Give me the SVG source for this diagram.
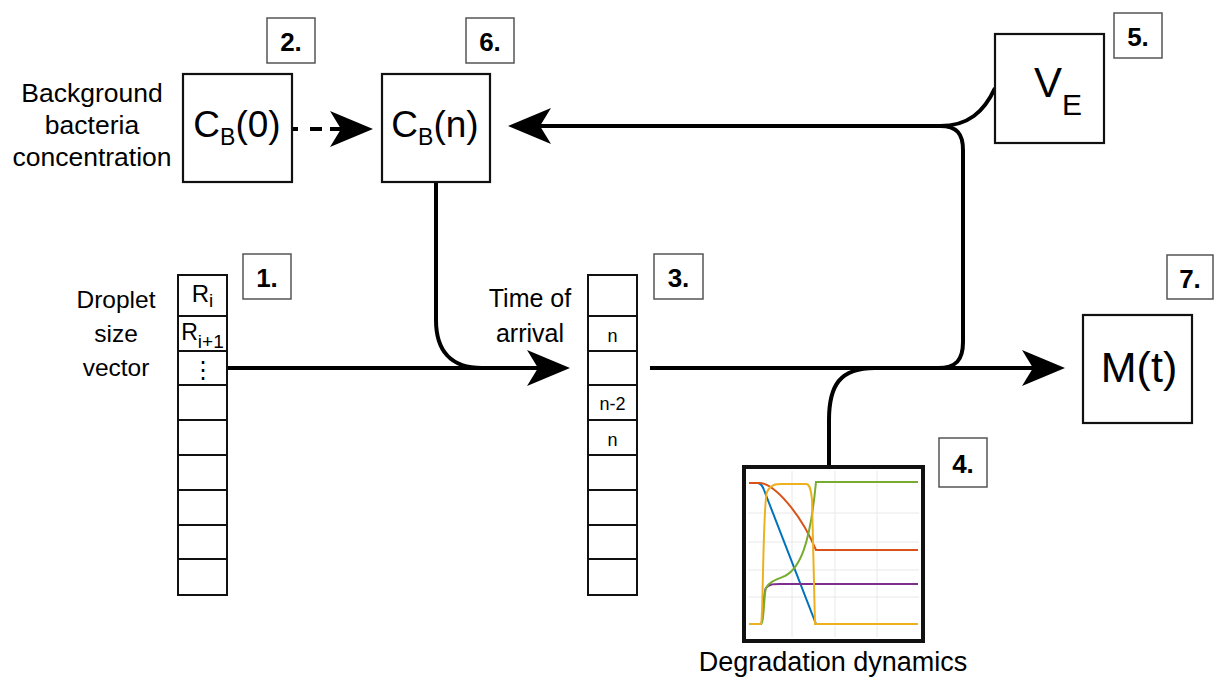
<svg xmlns="http://www.w3.org/2000/svg" width="1214" height="681" viewBox="0 0 1214 681">
<defs>
<style>
text{font-family:"Liberation Sans",Arial,sans-serif;fill:#000}
.node{fill:#fff;stroke:#111;stroke-width:2.2}
.cell{fill:#fff;stroke:#111;stroke-width:2}
.num rect{fill:#fff;stroke:#555;stroke-width:1.5}
.num text{font-weight:bold;font-size:26px;text-anchor:middle}
.lbl{text-anchor:middle}
.conn{fill:none;stroke:#000;stroke-width:4}
.grid{stroke:#e8e8e8;stroke-width:1;fill:none}
.curve{fill:none;stroke-width:2}
</style>
<marker id="ah" markerUnits="userSpaceOnUse" viewBox="0 -20 50 40" markerWidth="50" markerHeight="40" refX="11" refY="0" orient="auto" overflow="visible">
<path d="M43 0 L0 -18 L11 0 L0 18 Z" fill="#000"/>
</marker>
</defs>
<rect width="1214" height="681" fill="#fff"/>

<g id="connectors">
<path class="conn" d="M227 368 H538" marker-end="url(#ah)"/>
<path class="conn" d="M436 182 V320 C436 350 450 368 482 368"/>
<path class="conn" d="M650 368 H1033" marker-end="url(#ah)"/>
<path class="conn" d="M945 126 H540" marker-end="url(#ah)"/>
<path class="conn" d="M940 126 C968 126 984 112 995 88"/>
<path class="conn" d="M940 126 C957 126 963 134 963 150 V342 C963 360 956 368 938 368"/>
<path class="conn" d="M829 467 V420 C829 385 840 368 875 368"/>
<path class="conn" d="M292 129 H341" stroke-dasharray="6 12 12 8 20" marker-end="url(#ah)"/>
</g>

<g id="label-background">
<text class="lbl" x="92" y="102" font-size="26.5">Background</text>
<text class="lbl" x="92" y="134" font-size="26.5">bacteria</text>
<text class="lbl" x="92" y="166" font-size="26.5">concentration</text>
</g>

<g id="node-cb0">
<rect class="node" x="183" y="74" width="109" height="108"/>
<text x="237" y="137" text-anchor="middle" font-size="37">C<tspan font-size="23" dy="8">B</tspan><tspan dy="-8">(0)</tspan></text>
</g>

<g id="node-cbn">
<rect class="node" x="382" y="74" width="108" height="108"/>
<text x="435" y="137" text-anchor="middle" font-size="37">C<tspan font-size="23" dy="8">B</tspan><tspan dy="-8">(n)</tspan></text>
</g>

<g id="node-ve">
<rect class="node" x="995" y="34" width="109" height="109"/>
<text x="1034" y="97" font-size="42">V<tspan font-size="30" dy="18">E</tspan></text>
</g>

<g id="node-mt">
<rect class="node" x="1083" y="315" width="109" height="108"/>
<text x="1139" y="382" text-anchor="middle" font-size="43">M(t)</text>
</g>

<g id="node-droplet-vector">
<text class="lbl" x="116" y="308" font-size="24.5">Droplet</text>
<text class="lbl" x="116" y="342" font-size="24.5">size</text>
<text class="lbl" x="116" y="376" font-size="24.5">vector</text>
<rect class="cell" x="178" y="275" width="49" height="41"/>
<rect class="cell" x="178" y="316" width="49" height="35"/>
<rect class="cell" x="178" y="351" width="49" height="34"/>
<rect class="cell" x="178" y="385" width="49" height="35"/>
<rect class="cell" x="178" y="420" width="49" height="35"/>
<rect class="cell" x="178" y="455" width="49" height="35"/>
<rect class="cell" x="178" y="490" width="49" height="35"/>
<rect class="cell" x="178" y="525" width="49" height="34"/>
<rect class="cell" x="178" y="559" width="49" height="36"/>
<text x="202.5" y="302" text-anchor="middle" font-size="24">R<tspan font-size="19" dy="5">i</tspan></text>
<text x="202.5" y="340" text-anchor="middle" font-size="23">R<tspan font-size="19" dy="8">i+1</tspan></text>
<text x="203" y="378" text-anchor="middle" font-size="24" style="font-family:'DejaVu Sans',sans-serif">⋮</text>
</g>

<g id="node-arrival-vector">
<text class="lbl" x="530" y="307" font-size="25">Time of</text>
<text class="lbl" x="530" y="342" font-size="25">arrival</text>
<rect class="cell" x="588" y="275" width="49" height="41"/>
<rect class="cell" x="588" y="316" width="49" height="35"/>
<rect class="cell" x="588" y="351" width="49" height="34"/>
<rect class="cell" x="588" y="385" width="49" height="35"/>
<rect class="cell" x="588" y="420" width="49" height="35"/>
<rect class="cell" x="588" y="455" width="49" height="35"/>
<rect class="cell" x="588" y="490" width="49" height="35"/>
<rect class="cell" x="588" y="525" width="49" height="34"/>
<rect class="cell" x="588" y="559" width="49" height="36"/>
<text x="612.5" y="342" text-anchor="middle" font-size="18">n</text>
<text x="612.5" y="410" text-anchor="middle" font-size="18">n-2</text>
<text x="612.5" y="446" text-anchor="middle" font-size="18">n</text>
</g>

<g id="node-degradation">
<rect x="744" y="467" width="179" height="174" fill="#fff" stroke="#111" stroke-width="4"/>
<path class="grid" d="M792 471 V637 M835 471 V637 M877 471 V637 M748 513 H919 M748 542 H919 M748 570 H919 M748 597 H919"/>
<path class="curve" stroke="#0072BD" d="M749 483 L758 483 C762 484 763 487 764 490 L816 624 L918 624"/>
<path class="curve" stroke="#D95319" d="M749 483 L760 483 C774 484 800 512 816 550 L918 550"/>
<path class="curve" stroke="#7E2F8E" d="M749 624 L761 624 C763 624 763 592 766 588 C769 584 773 584 780 584 L918 584"/>
<path class="curve" stroke="#77AC30" d="M749 624 L761 624 C764 624 764 592 766 588 C769 582 775 580 785 576 C800 568 810 545 816 482 L918 482"/>
<path class="curve" stroke="#EDB120" d="M749 624 L761 624 C763 624 763 500 767 492 C771 484 776 484 782 484 L806 484 C810 484 811 490 812 500 L815 624 L918 624"/>
<text class="lbl" x="833" y="671" font-size="27">Degradation dynamics</text>
</g>

<g id="labels-numbers" class="num">
<g id="num-1"><rect x="243" y="254" width="48" height="45"/><text x="267" y="287">1.</text></g>
<g id="num-2"><rect x="267" y="18" width="48" height="45"/><text x="291" y="51">2.</text></g>
<g id="num-3"><rect x="654" y="254" width="49" height="45"/><text x="678.5" y="287">3.</text></g>
<g id="num-4"><rect x="939" y="438" width="48" height="49"/><text x="963" y="473">4.</text></g>
<g id="num-5"><rect x="1114" y="13" width="48" height="45"/><text x="1138" y="46">5.</text></g>
<g id="num-6"><rect x="466" y="18" width="48" height="45"/><text x="490" y="51">6.</text></g>
<g id="num-7"><rect x="1167" y="255" width="46" height="44"/><text x="1190" y="288">7.</text></g>
</g>
</svg>
